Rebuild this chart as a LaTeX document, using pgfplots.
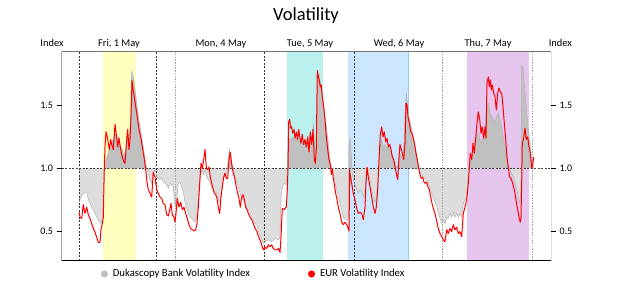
\documentclass[border=0pt]{standalone}
\usepackage{fontspec}
\setmainfont{Carlito}
\usepackage{pgfplots}
\usepackage{pgfplotstable}
\pgfplotsset{compat=1.18}

\definecolor{dukdark}{RGB}{192,192,192}
\definecolor{duklight}{RGB}{221,221,221}
\definecolor{dukline}{RGB}{178,178,178}
\definecolor{bandyellow}{RGB}{255,255,192}
\definecolor{bandcyan}{RGB}{186,240,238}
\definecolor{bandblue}{RGB}{204,230,255}
\definecolor{bandblueedge}{RGB}{150,200,245}
\definecolor{bandpurple}{RGB}{230,198,238}
\definecolor{sepgray}{RGB}{165,165,165}

% EUR volatility index (time position, index value)
\pgfplotstableread{
x v
79.0 0.65
80.0 0.61
81.7 0.60
83.3 0.71
85.0 0.64
86.7 0.69
88.3 0.63
90.0 0.60
91.7 0.56
93.3 0.52
95.0 0.49
96.7 0.45
98.3 0.41
100.0 0.41
101.0 0.51
102.3 0.56
103.3 0.61
104.3 1.00
105.0 1.17
106.0 1.29
107.3 1.25
108.3 1.20
109.3 1.15
110.7 1.23
111.7 1.19
113.3 1.15
115.0 1.35
116.3 1.27
117.7 1.17
119.0 1.24
120.7 1.15
122.3 1.09
124.0 1.05
125.0 1.04
126.7 1.23
127.7 1.31
129.0 1.15
130.0 1.23
131.0 1.41
132.0 1.70
133.0 1.63
134.3 1.57
135.7 1.49
137.3 1.41
139.0 1.31
140.7 1.25
142.3 1.17
144.0 1.09
145.7 0.99
147.0 0.89
148.3 0.83
150.0 0.80
151.7 0.77
153.3 0.97
155.0 0.93
156.7 0.83
158.3 0.80
160.0 0.77
161.7 0.76
163.3 0.72
165.0 0.71
166.7 0.63
168.3 0.62
170.0 0.68
171.0 0.72
172.3 0.63
174.0 0.61
175.0 0.57
176.0 0.64
177.3 0.76
179.0 0.69
180.7 0.73
182.3 0.67
184.0 0.69
185.7 0.64
187.3 0.60
189.0 0.55
190.7 0.52
192.3 0.51
194.0 0.50
195.7 0.51
197.0 0.56
198.3 0.69
199.7 0.88
201.0 1.04
202.3 1.00
203.7 1.07
205.0 1.15
206.3 1.01
207.7 0.99
209.0 1.01
210.3 0.93
211.7 0.88
213.0 0.84
214.3 0.80
215.7 0.79
217.0 0.76
218.3 0.69
219.7 0.64
221.0 0.77
222.3 0.85
223.7 0.93
225.0 0.96
226.3 0.92
227.7 0.92
229.0 1.07
230.3 1.13
231.7 1.03
233.3 0.96
235.0 0.91
236.3 0.85
237.7 0.80
239.0 0.76
240.3 0.69
241.7 0.77
243.0 0.79
244.3 0.75
245.7 0.69
247.0 0.67
248.3 0.64
250.0 0.61
251.7 0.59
253.3 0.56
255.0 0.52
256.7 0.50
258.3 0.46
260.0 0.43
261.7 0.39
263.3 0.35
265.0 0.37
266.7 0.36
268.3 0.39
270.0 0.375
271.7 0.39
273.3 0.36
275.0 0.35
276.7 0.35
278.3 0.36
280.0 0.33
281.0 0.45
282.3 0.68
283.7 0.67
285.0 0.68
286.3 0.69
287.3 0.83
288.0 1.00
288.7 1.37
289.7 1.39
290.7 1.32
291.7 1.33
292.7 1.28
294.0 1.31
295.0 1.24
296.3 1.29
297.7 1.23
298.7 1.31
300.0 1.24
301.0 1.20
302.3 1.27
303.7 1.19
305.0 1.23
306.3 1.17
307.7 1.25
309.0 1.13
310.3 1.29
311.7 1.19
313.0 1.31
314.3 1.07
315.3 1.04
316.3 1.15
317.3 1.78
318.3 1.73
319.3 1.70
320.3 1.65
321.3 1.665
322.3 1.57
323.7 1.49
325.0 1.39
326.3 1.25
327.7 1.15
329.0 1.07
330.3 1.03
331.3 0.95
332.3 0.99
333.3 0.92
334.3 0.87
335.7 0.80
337.0 0.75
338.3 0.69
340.0 0.64
341.7 0.57
343.3 0.55
345.0 0.57
346.7 0.55
348.3 0.52
349.0 0.50
349.7 0.99
350.0 0.96
351.7 0.88
353.3 0.80
355.0 0.75
356.7 0.68
358.3 0.64
360.0 0.65
361.7 0.64
363.3 0.59
365.0 0.69
366.0 0.88
367.0 1.01
368.3 0.93
370.0 0.85
371.7 0.77
373.3 0.69
375.0 0.64
376.3 0.69
377.7 0.83
379.0 1.07
380.3 1.27
381.7 1.33
383.0 1.25
384.3 1.29
385.7 1.21
387.0 1.24
388.3 1.17
389.7 1.19
391.0 1.15
392.3 1.09
393.7 1.07
395.0 1.01
396.3 0.96
397.7 0.91
399.0 1.09
400.0 1.19
401.0 1.16
402.3 1.12
403.7 1.07
405.0 1.20
406.0 1.52
407.0 1.505
408.0 1.41
409.3 1.36
410.7 1.29
412.0 1.28
413.3 1.24
414.7 1.19
416.0 1.12
417.3 1.07
418.7 1.00
420.0 0.95
421.3 0.92
422.7 0.93
424.0 0.89
425.3 0.88
426.7 0.89
428.0 0.85
429.3 0.83
430.7 0.77
432.0 0.72
433.3 0.68
435.0 0.64
436.7 0.58
438.3 0.52
440.0 0.48
441.7 0.455
443.3 0.43
445.0 0.415
446.7 0.51
448.3 0.48
450.0 0.52
451.7 0.495
453.3 0.55
455.0 0.51
456.7 0.53
458.3 0.48
460.0 0.495
461.7 0.455
463.3 0.64
465.0 0.69
466.7 0.75
468.3 0.88
469.3 1.00
470.3 1.12
471.7 1.07
473.0 1.20
474.3 1.12
475.7 1.24
477.0 1.36
478.3 1.45
479.7 1.39
481.0 1.28
482.3 1.33
483.7 1.24
485.0 1.33
486.0 1.24
487.0 1.68
488.3 1.73
489.3 1.65
490.3 1.705
491.3 1.625
492.3 1.665
493.7 1.60
495.0 1.57
496.3 1.465
497.7 1.60
499.0 1.64
500.3 1.61
501.7 1.60
503.0 1.49
504.3 1.36
505.7 1.23
507.0 1.09
508.3 1.01
509.7 0.93
511.0 0.92
512.3 0.89
513.7 0.85
515.0 0.80
516.3 0.73
517.7 0.67
519.0 0.61
520.3 0.57
521.0 0.61
521.7 0.88
522.3 1.20
523.7 1.24
525.0 1.32
526.3 1.23
527.7 1.25
529.0 1.17
530.3 1.12
531.7 1.00
532.7 1.03
533.7 1.09
}\eurdata

% Dukascopy Bank volatility index (time position, index value)
\pgfplotstableread{
x v
79.0 0.72
81.0 0.77
83.3 0.80
85.0 0.81
86.7 0.81
88.3 0.75
91.7 0.69
95.0 0.64
98.3 0.59
101.0 0.56
102.7 0.61
104.3 1.00
106.7 1.09
108.3 1.12
111.0 1.20
113.3 1.23
115.0 1.28
116.7 1.23
118.3 1.25
120.7 1.17
122.3 1.15
124.0 1.09
125.7 1.15
127.3 1.28
129.0 1.20
130.7 1.41
131.7 1.77
133.3 1.73
135.0 1.63
136.7 1.52
138.3 1.41
140.0 1.33
141.7 1.25
143.3 1.17
145.0 1.07
146.7 1.00
148.3 0.96
150.0 0.91
151.7 0.88
153.3 0.96
155.0 0.99
156.7 0.93
158.3 0.92
160.0 0.91
161.7 0.92
163.3 0.89
165.0 0.88
166.7 0.87
168.3 0.84
170.0 0.88
171.7 0.87
173.3 0.85
175.0 0.69
176.7 0.75
178.3 0.88
180.0 0.89
181.7 0.85
183.3 0.81
185.0 0.73
186.7 0.68
188.3 0.64
190.0 0.61
191.7 0.60
193.3 0.59
195.0 0.57
196.7 0.61
198.3 0.75
200.0 0.93
201.7 0.99
203.3 0.95
205.0 0.99
206.7 0.93
208.3 0.91
210.0 0.89
211.7 0.84
213.3 0.83
215.0 0.81
216.7 0.80
218.3 0.75
220.0 0.72
221.7 0.83
223.3 0.91
225.0 0.95
226.7 0.96
228.3 1.07
229.3 1.15
231.0 1.07
233.3 1.00
235.0 0.93
236.7 0.89
238.3 0.85
240.0 0.80
241.7 0.76
243.3 0.75
245.0 0.72
246.7 0.69
248.3 0.67
250.0 0.64
251.7 0.61
253.3 0.59
255.0 0.56
256.7 0.55
258.3 0.50
260.0 0.47
261.7 0.43
263.3 0.40
265.0 0.415
268.3 0.43
271.7 0.415
275.0 0.44
278.3 0.43
280.0 0.44
281.0 0.77
282.3 0.85
284.3 0.88
286.3 0.87
287.3 0.99
288.3 1.23
290.0 1.24
291.7 1.23
293.3 1.25
295.0 1.23
296.7 1.24
298.3 1.21
300.0 1.23
301.7 1.20
305.0 1.19
306.7 1.21
308.3 1.20
310.0 1.25
311.7 1.23
313.3 1.36
315.0 1.12
316.3 1.20
317.7 1.73
319.0 1.76
320.3 1.68
321.7 1.625
323.3 1.52
325.0 1.41
326.7 1.31
328.3 1.20
330.0 1.07
331.7 1.00
333.3 0.95
335.0 0.89
336.7 0.83
338.3 0.77
340.0 0.72
341.7 0.67
343.3 0.61
345.0 0.60
346.7 0.59
348.3 0.60
349.0 1.17
350.0 1.25
351.0 1.15
352.3 0.96
354.3 0.88
356.7 0.83
358.3 0.80
360.0 0.83
361.7 0.81
363.3 0.77
365.0 0.83
366.7 0.99
368.3 0.96
370.0 0.91
371.7 0.83
373.3 0.77
375.0 0.73
376.7 0.77
378.3 0.93
380.0 1.17
381.7 1.23
383.3 1.17
385.0 1.19
386.7 1.16
388.3 1.17
390.0 1.15
391.7 1.12
393.3 1.09
395.0 1.05
396.7 1.00
398.3 1.03
400.0 1.12
401.7 1.09
403.3 1.07
405.0 1.41
406.3 1.60
407.7 1.49
409.0 1.41
410.3 1.36
411.7 1.31
413.3 1.24
415.0 1.17
416.7 1.11
418.3 1.03
420.0 0.97
421.7 0.95
423.3 0.93
425.0 0.92
426.7 0.91
428.3 0.88
430.0 0.84
431.7 0.80
433.3 0.76
435.0 0.73
436.7 0.70
438.3 0.64
440.0 0.60
441.7 0.56
443.3 0.59
445.0 0.56
446.7 0.61
448.3 0.60
450.0 0.64
451.7 0.61
453.3 0.65
455.0 0.61
456.7 0.64
458.3 0.61
460.0 0.64
461.7 0.61
463.3 0.72
465.0 0.75
466.7 0.77
468.3 0.99
470.0 1.07
471.7 1.04
473.3 1.15
475.0 1.23
476.7 1.25
478.3 1.28
480.0 1.23
481.7 1.20
483.3 1.25
485.0 1.28
486.7 1.49
488.3 1.52
490.0 1.44
491.7 1.41
493.3 1.39
495.0 1.37
496.7 1.41
498.3 1.44
500.0 1.39
501.7 1.33
503.3 1.25
505.0 1.17
506.7 1.07
508.3 1.01
510.0 0.99
511.7 0.96
513.3 0.93
515.0 0.89
516.7 0.83
518.3 0.77
520.0 0.72
521.0 0.88
521.7 1.81
522.7 1.82
523.7 1.73
525.0 1.60
526.7 1.44
528.3 1.31
530.0 1.20
531.7 1.04
533.3 1.07
}\dukdata

\pgfplotsset{
  volbase/.style={
    at={(61.5pt,20.3pt)}, anchor=south west,
    scale only axis, width=489.5pt, height=209pt,
    xmin=61.5, xmax=551, ymin=0.263, ymax=1.93,
    ytick={0.5,1,1.5},
    tick align=outside, major tick length=5pt,
    tick style={black, line width=0.6pt},
    yticklabel style={font=\fontsize{10}{12}\selectfont,
      /pgf/number format/.cd, fixed, fixed zerofill, precision=1,
      assume math mode=true},
  },
}

\begin{document}
\begin{tikzpicture}[x=1pt,y=1pt]

\begin{axis}[
  volbase, set layers,
  xtick=\empty, ytick pos=left,
  axis line style={draw=none},
  legend style={at={(0.0801,-0.0636)}, anchor=west, draw=none, fill=none,
    inner sep=0pt, legend columns=2,
    font=\fontsize{10.7}{12}\selectfont,
    nodes={inner sep=0pt},
    /tikz/every odd column/.append style={column sep=5pt},
    /tikz/every even column/.append style={column sep=58pt}},
  legend image code/.code={\fill[#1] (0pt,0pt) circle (3.3pt);},
]
  % session bands
  \begin{pgfonlayer}{axis background}
    \fill[bandyellow] (axis cs:103.3,0.263) rectangle (axis cs:135.7,1.93);
    \fill[bandcyan]   (axis cs:287.3,0.263) rectangle (axis cs:322.7,1.93);
    \fill[bandblue]   (axis cs:348.3,0.263) rectangle (axis cs:408.7,1.93);
    \draw[bandblueedge, line width=0.6pt] (axis cs:408.7,0.263) -- (axis cs:408.7,1.93);
    \fill[bandpurple] (axis cs:467.0,0.263) rectangle (axis cs:529.0,1.93);
  \end{pgfonlayer}

  % Dukascopy index shaded against the 1.0 reference: above and below
  \begin{scope}
    \clip (axis cs:61.5,1) rectangle (axis cs:551,1.93);
    \addplot[fill=dukdark, draw=none, forget plot] table[x=x, y=v] {\dukdata}
      -- (axis cs:533.3,1) -- (axis cs:79,1) -- cycle;
  \end{scope}
  \begin{scope}
    \clip (axis cs:61.5,0.263) rectangle (axis cs:551,1);
    \addplot[fill=duklight, draw=none, forget plot] table[x=x, y=v] {\dukdata}
      -- (axis cs:533.3,1) -- (axis cs:79,1) -- cycle;
  \end{scope}

  % day separators and the 1.0 reference
  \draw[black!80, line width=0.5pt, dash pattern=on 2pt off 1.5pt]
    (axis cs:79,0.263) -- (axis cs:79,1.93)
    (axis cs:156.3,0.263) -- (axis cs:156.3,1.93)
    (axis cs:264.3,0.263) -- (axis cs:264.3,1.93)
    (axis cs:354.3,0.263) -- (axis cs:354.3,1.93);
  \draw[sepgray, line width=1pt, dash pattern=on 1.5pt off 1.2pt]
    (axis cs:175.3,0.263) -- (axis cs:175.3,1.93)
    (axis cs:442.7,0.263) -- (axis cs:442.7,1.93)
    (axis cs:532.7,0.263) -- (axis cs:532.7,1.93);
  \draw[black!75, line width=0.5pt, dash pattern=on 2pt off 1.5pt]
    (axis cs:61.5,1) -- (axis cs:551,1);

  \addplot[dukline, line width=0.5pt, forget plot] table[x=x, y=v] {\dukdata};
  \addplot[red, line width=1pt, line join=round, forget plot] table[x=x, y=v] {\eurdata};

  % frame
  \draw[black!55, line width=0.9pt] (rel axis cs:0,1) -- (rel axis cs:1,1);
  \draw[black, line width=1pt] (rel axis cs:0,1) -- (rel axis cs:0,0)
    -- (rel axis cs:1,0) -- (rel axis cs:1,1);

  \addlegendimage{color=black!25}
  \addlegendentry{Dukascopy Bank Volatility Index}
  \addlegendimage{color=red}
  \addlegendentry{EUR Volatility Index}
\end{axis}

% right-hand index scale
\begin{axis}[
  volbase,
  axis x line=none, axis y line*=right,
  axis line style={draw=none},
]
  \addplot[draw=none] coordinates {(300,1)};
\end{axis}

\node[anchor=base, font=\fontsize{18.5}{20}\selectfont] at (306,260.3) {Volatility};
\begin{scope}[every node/.style={anchor=base, font=\fontsize{10.4}{12}\selectfont}]
  \node at (52,234.3) {Index};
  \node at (560.3,234.3) {Index};
  \node at (119,234.3) {Fri, 1 May};
  \node at (221,234.3) {Mon, 4 May};
  \node at (310,234.3) {Tue, 5 May};
  \node at (399,234.3) {Wed, 6 May};
  \node at (488,234.3) {Thu, 7 May};
\end{scope}

\pgfresetboundingbox
\useasboundingbox (0,0) rectangle (625,281);
\end{tikzpicture}
\end{document}
